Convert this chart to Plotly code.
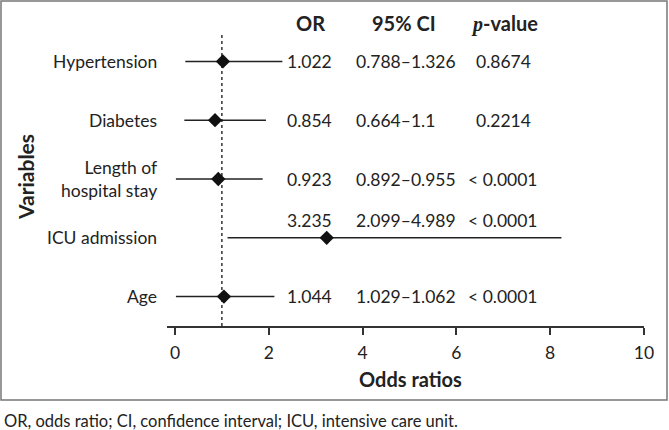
import plotly.graph_objects as go

# ---- data ----
variables = ["Hypertension", "Diabetes", "Length of<br>hospital stay", "ICU admission", "Age"]
odds_ratio = [1.022, 0.854, 0.923, 3.235, 1.044]
# whisker ends as drawn in the picture
whisker_lo = [0.22, 0.20, 0.02, 1.12, 0.02]
whisker_hi = [2.29, 1.94, 1.87, 8.24, 2.12]
or_text = ["1.022", "0.854", "0.923", "3.235", "1.044"]
ci_text = ["0.788–1.326", "0.664–1.1", "0.892–0.955", "2.099–4.989", "1.029–1.062"]
p_text = ["0.8674", "0.2214", "< 0.0001", "< 0.0001", "< 0.0001"]
x_ticks = [0, 2, 4, 6, 8, 10]

FONT = "Lato"
TXT = "#222222"

n = len(variables)
ypos = [n - i for i in range(n)]

L, R_, T, B = 167, 644, 32, 326
W, H = R_ - L, B - T
def px(x):
    return (x - L) / W
def py(y):
    return (B - y) / H

fig = go.Figure()
fig.add_trace(go.Scatter(
    x=odds_ratio, y=ypos, mode="markers",
    marker=dict(symbol="diamond", size=11, color="#111"),
    error_x=dict(type="data", symmetric=False,
                 array=[h - o for h, o in zip(whisker_hi, odds_ratio)],
                 arrayminus=[o - l for o, l in zip(odds_ratio, whisker_lo)],
                 width=0, thickness=1.5, color="#222"),
    showlegend=False, hoverinfo="skip"))

# reference line at OR = 1
fig.add_shape(type="line", x0=1, x1=1, xref="x", y0=0, y1=1, yref="paper",
              line=dict(color="#333", width=1.5, dash="dot"), layer="below")

body = dict(size=17.5, color=TXT, family=FONT)
ann = []
for i, v in enumerate(variables):
    y = ypos[i]
    ann.append(dict(x=px(159), xref="paper", y=y, yref="y", text=v, showarrow=False,
                    xanchor="right", yanchor="middle", align="right", font=body))
    ys = 17 if "ICU" in v else 0
    ann.append(dict(x=px(309), xref="paper", y=y, yref="y", yshift=ys, text=or_text[i], showarrow=False,
                    xanchor="center", yanchor="middle", font=body))
    ann.append(dict(x=px(354), xref="paper", y=y, yref="y", yshift=ys, text=ci_text[i], showarrow=False,
                    xanchor="left", yanchor="middle", font=body))
    ann.append(dict(x=px(503), xref="paper", y=y, yref="y", yshift=ys, text=p_text[i], showarrow=False,
                    xanchor="center", yanchor="middle", font=body))

hdr = dict(size=20, color=TXT, family=FONT)
def head(xp, yp, text, **kw):
    d = dict(x=xp, xref="paper", y=yp, yref="paper", text=text, showarrow=False,
             xanchor="center", yanchor="middle", font=hdr)
    d.update(kw)
    ann.append(d)

head(px(310), py(23), "<b>OR</b>")
head(px(404), py(23), "<b>95% CI</b>")
head(px(504), py(23), "<b><i><span style='font-family:Liberation Serif'>p</span></i>-value</b>")
head(px(25), py(177), "<b>Variables</b>", textangle=-90, font=dict(size=21, color=TXT, family=FONT))
head(px(410), py(379), "<b>Odds ratios</b>")
ann.append(dict(x=px(2), xref="paper", y=py(421), yref="paper", xanchor="left", yanchor="middle",
                text="OR, odds ratio; CI, confidence interval; ICU, intensive care unit.",
                showarrow=False, font=dict(size=16.5, color=TXT, family=FONT)))

# outer frame
fig.add_shape(type="rect", xref="paper", yref="paper",
              x0=px(1), x1=px(667), y0=py(400), y1=py(1),
              line=dict(color="#777", width=1.5))

fig.update_layout(
    width=669, height=430,
    margin=dict(l=L, r=669 - R_, t=T, b=430 - B),
    paper_bgcolor="white", plot_bgcolor="white",
    annotations=ann,
    xaxis=dict(range=[-0.17, 10], tickvals=x_ticks, ticks="outside", ticklen=7,
               tickcolor="#333", tickwidth=1.5, showline=True, linecolor="#333", linewidth=1.5,
               showgrid=False, zeroline=False, ticklabelstandoff=3,
               tickfont=dict(size=17.5, color=TXT, family=FONT)),
    yaxis=dict(range=[0.5, 5.5], showticklabels=False, showgrid=False,
               zeroline=False, showline=False),
)

fig.write_html("out.html")
